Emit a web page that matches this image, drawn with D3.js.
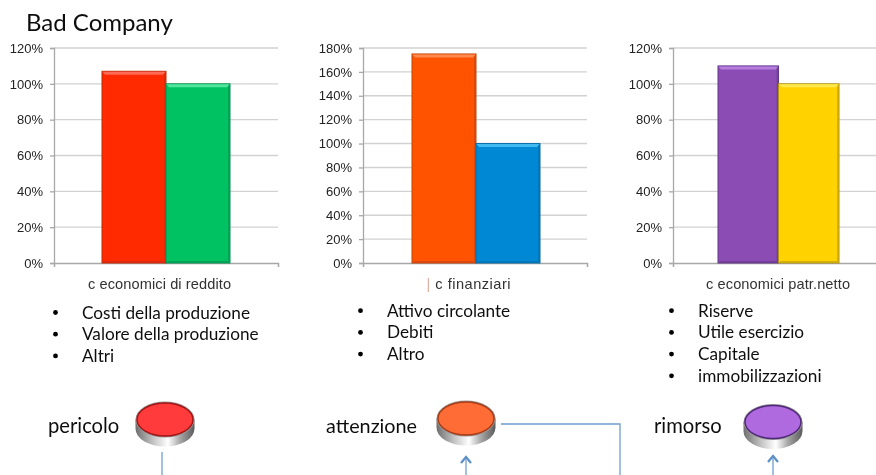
<!DOCTYPE html>
<html><head><meta charset="utf-8">
<script src="https://cdn.jsdelivr.net/npm/d3@7"></script>
<style>
html,body{margin:0;padding:0;background:#fff;overflow:hidden}
svg{display:block}
.ax text{font-family:"Liberation Sans",Arial,sans-serif;font-size:13px;fill:#222}
.cal{font-family:Lato,"Open Sans",sans-serif;fill:#111}
</style></head><body>
<svg id="c" width="876" height="475"></svg>
<script>
const title = "Bad Company";
const categories = ["c economici di reddito", "c finanziari", "c economici patr.netto"];
const seriesValues = [[107, 100], [175, 100], [110, 100]];
const yMaxima = [120, 180, 120];
const yTickSteps = [20, 20, 20];
const barColors = [["#ff2a00", "#00c264"], ["#ff5200", "#0088d4"], ["#8b4db3", "#ffd200"]];
const highlightColors = [["#ff6a55", "#4fe59a"], ["#ff8a50", "#40b8f0"], ["#b57fe0", "#ffe84d"]];
const edgeColors = [["#c22a0c", "#0a8f50"], ["#c0440c", "#0a6ca6"], ["#643888", "#b09210"]];
const bulletLists = [
  ["Costi della produzione", "Valore della produzione", "Altri"],
  ["Attivo circolante", "Debiti", "Altro"],
  ["Riserve", "Utile esercizio", "Capitale", "immobilizzazioni"]
];
const statusLabels = ["pericolo", "attenzione", "rimorso"];
const buttonColors = [["#ff3a3a", "#a01818"], ["#ff6c35", "#a83c18"], ["#b06ae0", "#4f2a78"]];

/* layout */
const panels = [
  {x0: 54, x1: 278, band: [102, 230], lx: 159.5, lw: 143, bx: 55.5, tx: 82, by: 318.5},
  {x0: 363, x1: 587, band: [412, 540], lx: 468.5, lw: 84, bx: 360.5, tx: 387, by: 316.7},
  {x0: 673, x1: 897, band: [718, 839], lx: 778, lw: 144, bx: 671.5, tx: 698, by: 316.7}
];
const yTop = 48, yBase = 263, lineGap = 21.7;
const buttons = [
  {lx: 48, cx: 165, cy: 422.5, by: 433, fs: 20.2},
  {lx: 326, cx: 466, cy: 421.5, by: 433, fs: 19.8},
  {lx: 654, cx: 773, cy: 425, by: 432.5, fs: 20.2}
];

const svg = d3.select("#c");
const defs = svg.append("defs");
const g0 = defs.append("linearGradient").attr("id", "rim");
[["0", "#6e6e6e"], [".3", "#c4c4c4"], [".55", "#ffffff"], [".75", "#a8a8a8"], ["1", "#5a5a5a"]]
  .forEach(s => g0.append("stop").attr("offset", s[0]).attr("stop-color", s[1]));
defs.append("filter").attr("id", "soft").append("feGaussianBlur").attr("stdDeviation", 0.5);

const root = svg.append("g").attr("filter", "url(#soft)");

root.append("text").attr("class", "cal").attr("x", 26).attr("y", 31)
  .style("font-size", "24px").text(title);

panels.forEach((p, i) => {
  const g = root.append("g");
  const y = d3.scaleLinear().domain([0, yMaxima[i]]).range([yBase, yTop]);
  const x = d3.scaleBand().domain(seriesValues[i].map((_, k) => k)).range(p.band);
  const ticks = d3.range(0, yMaxima[i] + 1, yTickSteps[i]);

  g.append("g").selectAll("line").data(ticks.filter(t => t > 0)).join("line")
    .attr("x1", p.x0).attr("x2", p.x1).attr("y1", d => y(d)).attr("y2", d => y(d))
    .attr("stroke", "#d2d2d2").attr("stroke-width", 1.4);

  const axis = g.append("g").attr("class", "ax").attr("transform", `translate(${p.x0},0)`)
    .call(d3.axisLeft(y).tickValues(ticks).tickFormat(d => d + "%").tickSize(4).tickPadding(7));
  axis.selectAll("path,line").attr("stroke", "#a8a8a8").attr("stroke-width", 1.3);

  const base = d3.axisBottom(d3.scaleLinear().domain([0, 1]).range([p.x0, p.x1])).tickValues([0, 1]).tickSize(4).tickFormat("");
  const ba = g.append("g").attr("transform", `translate(0,${yBase})`).call(base);
  ba.selectAll("path,line").attr("stroke", "#a8a8a8").attr("stroke-width", 1.3);

  const bars = g.selectAll("g.bar").data(seriesValues[i]).join("g").attr("class", "bar");
  bars.append("rect").attr("x", (d, k) => x(k)).attr("width", x.bandwidth())
    .attr("y", d => y(d)).attr("height", d => yBase - y(d))
    .attr("fill", (d, k) => barColors[i][k])
    .attr("stroke", (d, k) => edgeColors[i][k]).attr("stroke-width", 1);
  bars.append("path")
    .attr("d", (d, k) => {
      const l = x(k), r = l + x.bandwidth(), t = y(d);
      return `M${l + .5},${t + .5}H${r - .5}L${r - 3},${t + 3.5}H${l + 3}Z`;
    })
    .attr("fill", (d, k) => highlightColors[i][k]);
  bars.append("path")
    .attr("d", (d, k) => {
      const l = x(k), r = l + x.bandwidth(), t = y(d);
      return `M${r - .5},${t + .5}V${yBase - .5}H${l + .5}L${l + 2},${yBase - 2}H${r - 2}V${t + 3.5}Z`;
    })
    .attr("fill", (d, k) => edgeColors[i][k]).attr("opacity", .55);

  const lab = g.append("text").attr("class", "ax").attr("x", p.lx).attr("y", 289)
    .attr("text-anchor", "middle").attr("textLength", p.lw)
    .style("font-family", "'Liberation Sans',Arial,sans-serif").style("font-size", "14.6px").style("fill", "#333");
  if (i === 1) lab.append("tspan").style("fill", "#e0b0a0").text("| ");
  lab.append("tspan").text(categories[i]);

  const list = g.selectAll("g.li").data(bulletLists[i]).join("g").attr("class", "li")
    .attr("transform", (d, k) => `translate(0,${p.by + k * lineGap})`);
  list.append("circle").attr("cx", p.bx).attr("cy", -6).attr("r", 2.4).attr("fill", "#000");
  list.append("text").attr("class", "cal").attr("x", p.tx).style("font-size", "17.2px").text(d => d);
});

/* connector lines */
const lineCol = "#6f9fd0";
const connectors = [
  [[162, 452], [162, 475]],
  [[501, 424], [620, 424], [620, 475]],
  [[466, 475], [466, 457]],
  [[773, 475], [773, 456]]
];
const lineGen = d3.line();
root.selectAll("path.conn").data(connectors).join("path").attr("class", "conn")
  .attr("d", lineGen).attr("fill", "none").attr("stroke", lineCol).attr("stroke-width", 1.3);
[[466, 457], [773, 456]].forEach(a => {
  root.append("path").attr("d", `M${a[0] - 5},${a[1] + 6}L${a[0]},${a[1]}L${a[0] + 5},${a[1] + 6}`)
    .attr("fill", "none").attr("stroke", "#5b8fc7").attr("stroke-width", 2.2);
});

/* buttons */
buttons.forEach((b, i) => {
  const g = root.append("g");
  g.append("text").attr("class", "cal").attr("x", b.lx).attr("y", b.by)
    .style("font-size", b.fs + "px").text(statusLabels[i]);
  g.append("path")
    .attr("d", `M${b.cx - 29.5},${b.cy - 3}V${b.cy + 6}A29.5,18 0 0 0 ${b.cx + 29.5},${b.cy + 6}V${b.cy - 3}Z`)
    .attr("fill", "url(#rim)");
  g.append("ellipse").attr("cx", b.cx).attr("cy", b.cy - 3).attr("rx", 29.5).attr("ry", 18).attr("fill", "#9a9a9a");
  g.append("ellipse").attr("cx", b.cx).attr("cy", b.cy - 3).attr("rx", 28).attr("ry", 16.5)
    .attr("fill", buttonColors[i][0]).attr("stroke", buttonColors[i][1]).attr("stroke-width", 1.5);
});
</script>
</body></html>
